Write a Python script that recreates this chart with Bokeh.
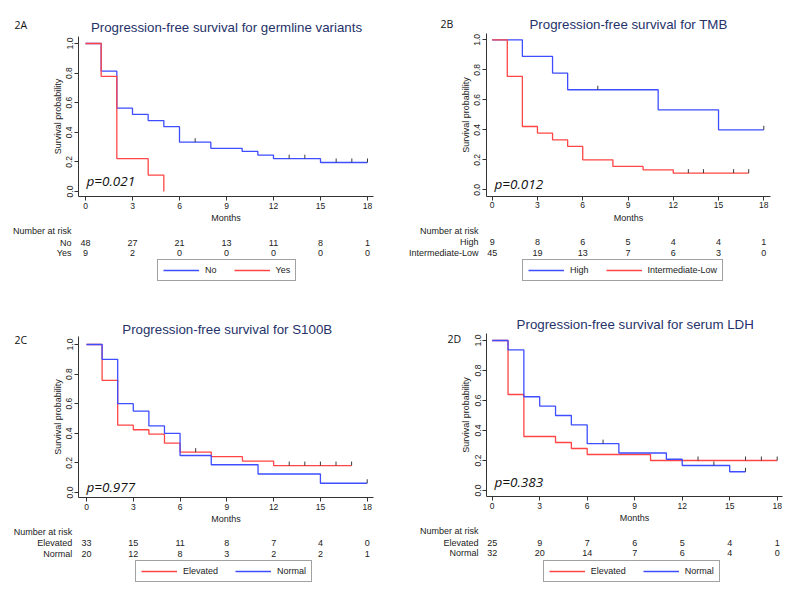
import numpy as np
from bokeh.plotting import figure
from bokeh.models import Range1d, FixedTicker, PrintfTickFormatter, Legend, LegendItem
from bokeh.layouts import gridplot
from bokeh.core.properties import value
from bokeh.embed import file_html
from bokeh.resources import INLINE

# ---------------- data ----------------
months_ticks = [0, 3, 6, 9, 12, 15, 18]
prob_ticks = [0.0, 0.2, 0.4, 0.6, 0.8, 1.0]

# 2A germline variants
A_title = "Progression-free survival for germline variants"
A_tag = "2A"
A_p = "p=0.021"
A_no_t = [0, 1, 2, 3, 4, 5, 6, 8, 10, 11, 12, 15, 18]
A_no_s = [1.0, 0.813, 0.563, 0.521, 0.479, 0.438, 0.333, 0.292, 0.271, 0.246, 0.222, 0.196, 0.196]
A_no_c = [7, 13, 14, 16, 17, 18]
A_yes_t = [0, 1, 2, 4, 5]
A_yes_s = [1.0, 0.778, 0.222, 0.111, 0.0]
A_yes_c = []
A_risk_no = [48, 27, 21, 13, 11, 8, 1]
A_risk_yes = [9, 2, 0, 0, 0, 0, 0]

# 2B TMB
B_title = "Progression-free survival for TMB"
B_tag = "2B"
B_p = "p=0.012"
B_high_t = [0, 2, 4, 5, 11, 15, 18]
B_high_s = [1.0, 0.889, 0.778, 0.667, 0.533, 0.400, 0.400]
B_high_c = [7, 18]
B_low_t = [0, 1, 2, 3, 4, 5, 6, 8, 10, 12, 17]
B_low_s = [1.0, 0.756, 0.422, 0.378, 0.333, 0.289, 0.200, 0.156, 0.133, 0.111, 0.111]
B_low_c = [13, 14, 16, 17]
B_risk_high = [9, 8, 6, 5, 4, 4, 1]
B_risk_low = [45, 19, 13, 7, 6, 3, 0]

# 2C S100B
C_title = "Progression-free survival for S100B"
C_tag = "2C"
C_p = "p=0.977"
C_elev_t = [0, 1, 2, 3, 4, 5, 6, 8, 10, 12, 17]
C_elev_s = [1.0, 0.758, 0.455, 0.424, 0.394, 0.333, 0.273, 0.242, 0.212, 0.182, 0.182]
C_elev_c = [7, 13, 14, 15, 16, 17]
C_norm_t = [0, 1, 2, 3, 4, 5, 6, 8, 11, 15, 18]
C_norm_s = [1.0, 0.90, 0.60, 0.55, 0.45, 0.40, 0.25, 0.1875, 0.125, 0.0625, 0.0625]
C_norm_c = [18]
C_risk_elev = [33, 15, 11, 8, 7, 4, 0]
C_risk_norm = [20, 12, 8, 3, 2, 2, 1]

# 2D serum LDH
D_title = "Progression-free survival for serum LDH"
D_tag = "2D"
D_p = "p=0.383"
D_elev_t = [0, 1, 2, 4, 5, 6, 10, 18]
D_elev_s = [1.0, 0.64, 0.36, 0.32, 0.28, 0.24, 0.20, 0.20]
D_elev_c = [13, 16, 17, 18]
D_norm_t = [0, 1, 2, 3, 4, 5, 6, 8, 11, 12, 15, 16]
D_norm_s = [1.0, 0.9375, 0.625, 0.5625, 0.50, 0.4375, 0.3125, 0.25, 0.2083, 0.1667, 0.125, 0.125]
D_norm_c = [7, 14, 16]
D_risk_elev = [25, 9, 7, 6, 5, 4, 1]
D_risk_norm = [32, 20, 14, 7, 6, 4, 0]

BLUE = "#3d4dff"
RED = "#ff4545"

W, H = 399, 301

# -------------- layout (screen px) --------------
LAY = {
    "A": dict(left=0, top=0, x0=85, x18=367, y1=43, y0=191, yax=78, xax=196, atop=36, aright=373,
              title=(226, 27), tag=(14, 24), p=(86, 180), nar_y=230, rows=(242, 252), rowx=71,
              leg=(157, 281)),
    "B": dict(left=399, top=0, x0=491.7, x18=763.3, y1=39.3, y0=189.3, yax=486, xax=195.7, atop=33, aright=770,
              title=(628, 24), tag=(440, 23), p=(494, 183), nar_y=230, rows=(241, 252), rowx=478,
              leg=(522, 281)),
    "C": dict(left=0, top=301, x0=86, x18=366.7, y1=344, y0=492, yax=78, xax=497.3, atop=336, aright=373,
              title=(226.7, 329), tag=(14, 339), p=(86, 486.7), nar_y=531, rows=(542, 553), rowx=71.7,
              leg=(135, 582)),
    "D": dict(left=399, top=301, x0=491.7, x18=776.7, y1=340, y0=490, yax=486, xax=496, atop=333, aright=782,
              title=(634.7, 324), tag=(447, 338), p=(494, 481.7), nar_y=530.7, rows=(542, 552.7), rowx=478,
              leg=(542.7, 582)),
}

SANS = value("Liberation Sans")


def surv_at(t, s, c):
    t = np.asarray(t, float)
    s = np.asarray(s, float)
    idx = np.searchsorted(t, np.asarray(c, float), side="right") - 1
    return s[idx]


def make_panel(key, title, tag, ptxt, curves, risk_rows):
    L = LAY[key]
    sx = (L["x18"] - L["x0"]) / 18.0
    ky = L["y0"] - L["y1"]
    fx = lambda px: (px - L["x0"]) / sx
    fy = lambda py: (L["y0"] - py) / ky

    p = figure(width=W, height=H,
               x_range=Range1d(fx(L["left"]), fx(L["left"] + W)),
               y_range=Range1d(fy(L["top"] + H), fy(L["top"])),
               output_backend="svg", toolbar_location=None, min_border=0)
    p.grid.visible = False
    p.outline_line_color = None
    p.background_fill_color = "white"
    p.border_fill_color = "white"

    # axes
    p.xaxis.fixed_location = fy(L["xax"])
    p.xaxis.bounds = (fx(L["yax"]), fx(L["aright"]))
    p.yaxis.fixed_location = fx(L["yax"])
    p.yaxis.bounds = (fy(L["xax"]), fy(L["atop"]))
    p.xaxis.ticker = FixedTicker(ticks=months_ticks)
    p.yaxis.ticker = FixedTicker(ticks=prob_ticks)
    p.yaxis.formatter = PrintfTickFormatter(format="%.1f")
    p.yaxis.major_label_orientation = "vertical"
    for ax in (p.xaxis, p.yaxis):
        ax.axis_line_color = "#333333"
        ax.major_tick_line_color = "#333333"
        ax.major_tick_out = 4
        ax.major_tick_in = 0
        ax.minor_tick_line_color = None
        ax.major_label_text_font = "Liberation Sans"
        ax.major_label_text_font_size = "8.5px"
        ax.major_label_text_color = "#222222"
        ax.major_label_standoff = 2
        ax.axis_label_text_font = "Liberation Sans"
        ax.axis_label_text_font_size = "9px"
        ax.axis_label_text_font_style = "normal"
        ax.axis_label_text_color = "#222222"
    p.xaxis.axis_label = "Months"
    p.yaxis.axis_label = "Survival probability"
    p.xaxis.axis_label_standoff = 1
    p.yaxis.axis_label_standoff = 1

    # curves
    items = []
    tick_h = 4.0 / ky
    for label, t, s, c, col in curves:
        r = p.step(x=t, y=s, mode="after", line_color=col, line_width=1.3)
        items.append(LegendItem(label=label, renderers=[r]))
        if len(c):
            cy = surv_at(t, s, c)
            p.segment(x0=c, y0=cy, x1=c, y1=cy + tick_h, line_color="#3a3a3a", line_width=1)

    # title, tag, p-value
    p.text(x=[fx(L["title"][0])], y=[fy(L["title"][1])], text=[title], text_font=SANS,
           text_font_size="13.3px", text_color="#25326a", text_align="center", text_baseline="middle")
    p.text(x=[fx(L["tag"][0])], y=[fy(L["tag"][1])], text=[tag], text_font=value("Open Sans"),
           text_font_size="10.5px", text_color="#111111", text_align="left", text_baseline="middle")
    p.text(x=[fx(L["p"][0])], y=[fy(L["p"][1])], text=[ptxt], text_font=value("Open Sans"),
           text_font_style="italic", text_font_size="13.5px", text_color="#111111",
           text_align="left", text_baseline="middle")

    # number at risk table
    p.text(x=[fx(L["rowx"])], y=[fy(L["nar_y"])], text=["Number at risk"], text_font=SANS,
           text_font_size="9px", text_color="#222222", text_align="right", text_baseline="middle")
    for (rlabel, counts), ry in zip(risk_rows, L["rows"]):
        yy = fy(ry)
        p.text(x=[fx(L["rowx"])], y=[yy], text=[rlabel], text_font=SANS, text_font_size="9px",
               text_color="#222222", text_align="right", text_baseline="middle")
        p.text(x=months_ticks, y=[yy] * len(months_ticks), text=[str(v) for v in counts], text_font=SANS,
               text_font_size="9px", text_color="#222222", text_align="center", text_baseline="middle")

    # legend
    lx = L["leg"][0] - L["left"]
    ly = (L["top"] + H) - L["leg"][1]
    leg = Legend(items=items, location=(lx, ly), orientation="horizontal",
                 glyph_width=36, glyph_height=10, label_height=10, label_width=0, label_standoff=6,
                 spacing=17, padding=5, margin=0,
                 label_text_font="Liberation Sans", label_text_font_size="9px", label_text_color="#222222",
                 border_line_color="#444444", border_line_width=1, background_fill_color="white",
                 background_fill_alpha=1.0)
    p.add_layout(leg)
    return p


pA = make_panel("A", A_title, A_tag, A_p,
                [("No", A_no_t, A_no_s, A_no_c, BLUE), ("Yes", A_yes_t, A_yes_s, A_yes_c, RED)],
                [("No", A_risk_no), ("Yes", A_risk_yes)])
pB = make_panel("B", B_title, B_tag, B_p,
                [("High", B_high_t, B_high_s, B_high_c, BLUE),
                 ("Intermediate-Low", B_low_t, B_low_s, B_low_c, RED)],
                [("High", B_risk_high), ("Intermediate-Low", B_risk_low)])
pC = make_panel("C", C_title, C_tag, C_p,
                [("Elevated", C_elev_t, C_elev_s, C_elev_c, RED), ("Normal", C_norm_t, C_norm_s, C_norm_c, BLUE)],
                [("Elevated", C_risk_elev), ("Normal", C_risk_norm)])
pD = make_panel("D", D_title, D_tag, D_p,
                [("Elevated", D_elev_t, D_elev_s, D_elev_c, RED), ("Normal", D_norm_t, D_norm_s, D_norm_c, BLUE)],
                [("Elevated", D_risk_elev), ("Normal", D_risk_norm)])

grid = gridplot([[pA, pB], [pC, pD]], toolbar_location=None)

open("out.html", "w").write(file_html(grid, INLINE))
